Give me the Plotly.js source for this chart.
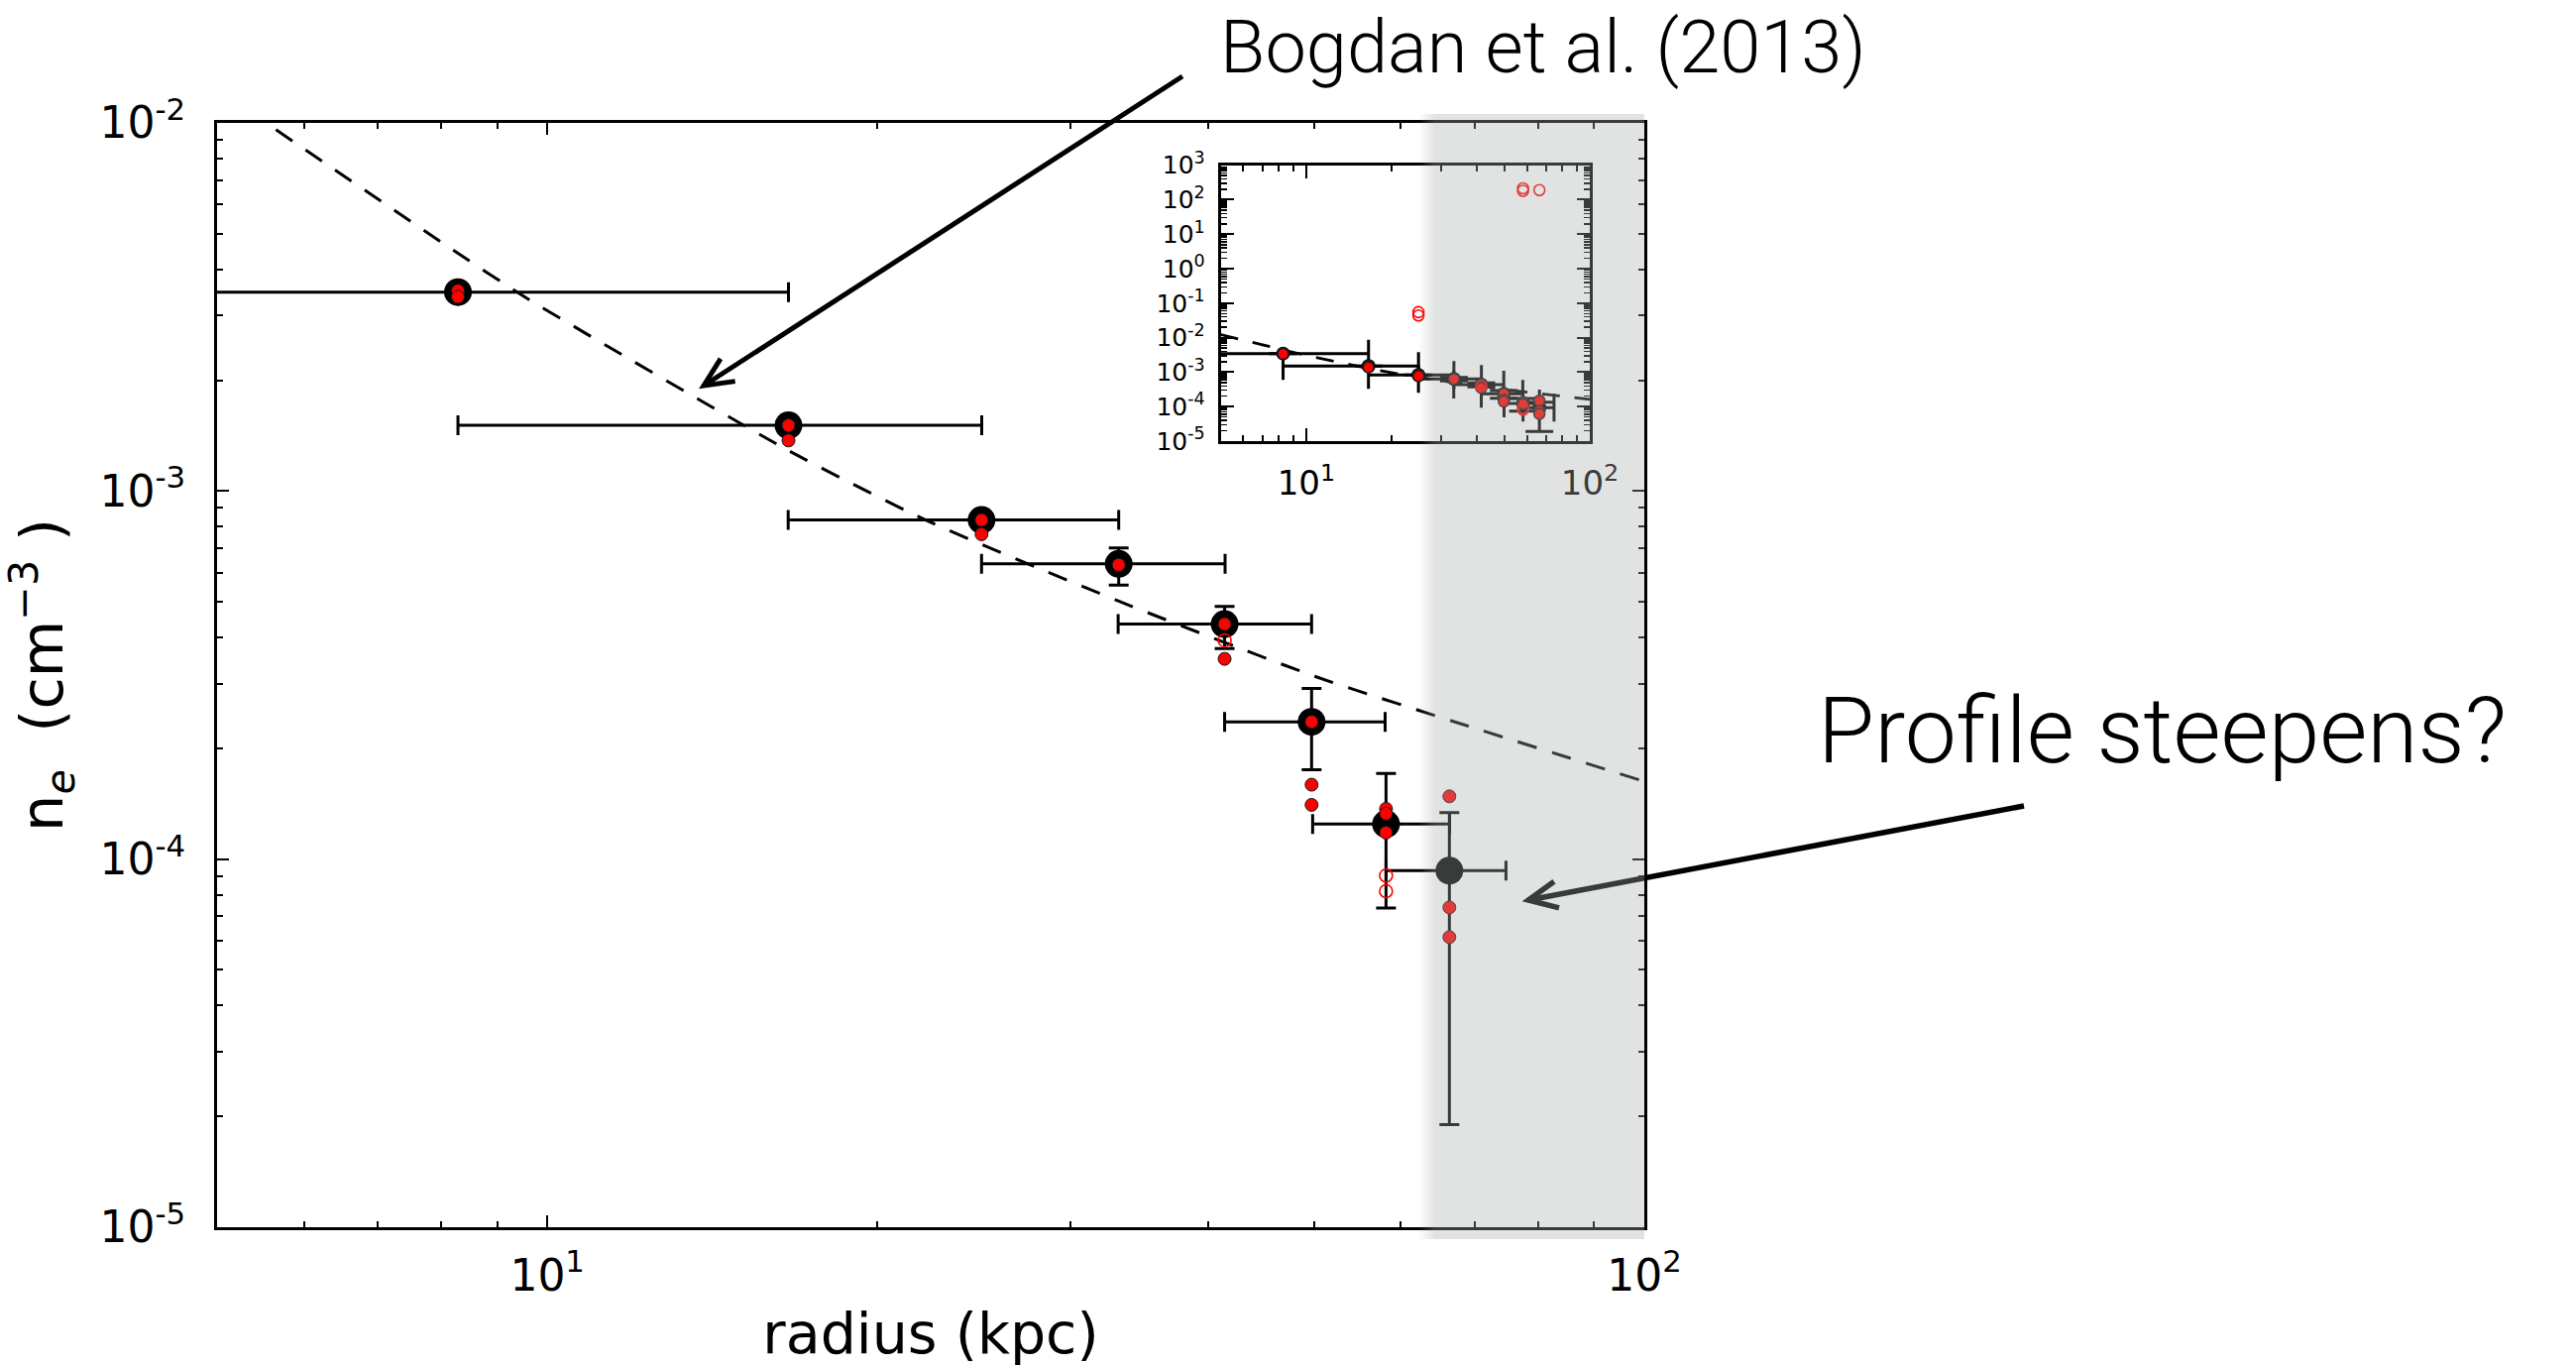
<!DOCTYPE html>
<html>
<head>
<meta charset="utf-8">
<script src="https://cdn.plot.ly/plotly-3.0.1.min.js"></script>
<style>
  html, body { margin: 0; padding: 0; background: #ffffff; }
  #chart { width: 2599px; height: 1378px; }
</style>
</head>
<body>
<div id="chart"></div>
<script>
// Deprojected electron density profile, radius in kpc, n_e in cm^-3
const radius        = [8.29, 16.59, 24.88, 33.18, 41.44, 49.74, 58.15, 66.42];
const density       = [3.47e-3, 1.508e-3, 8.34e-4, 6.34e-4, 4.35e-4, 2.36e-4, 1.245e-4, 9.3e-5];
const densityErrHi  = [0, 0, 0, 6.6e-5, 5.1e-5, 5.5e-5, 4.65e-5, 4.07e-5];
const densityErrLo  = [0, 0, 0, 7.9e-5, 6.2e-5, 6.1e-5, 5.09e-5, 7.4e-5];
const radiusErrHi   = [8.3, 8.3, 8.3, 8.3, 8.3, 8.3, 8.3, 8.38];
const radiusErrLo   = [8.2, 8.3, 8.3, 8.3, 8.3, 8.3, 8.3, 8.27];

// Alternative deprojections (filled) and rejected solutions (open)
const altRadius  = [8.29, 8.29, 16.59, 16.59, 24.88, 24.88, 33.18, 41.44, 41.44,
                    49.74, 49.74, 49.74, 58.15, 58.15, 58.15, 66.42, 66.42, 66.42];
const altDensity = [3.50e-3, 3.37e-3, 1.508e-3, 1.372e-3, 8.34e-4, 7.63e-4, 6.3e-4, 4.35e-4, 3.50e-4,
                    2.36e-4, 1.593e-4, 1.404e-4, 1.37e-4, 1.33e-4, 1.18e-4, 1.481e-4, 7.39e-5, 6.14e-5];
const rejRadius  = [24.88, 24.88, 41.44, 58.15, 58.15, 58.15, 58.15, 66.42];
const rejDensity = [0.055, 0.044, 3.93e-4, 9.02e-5, 8.18e-5, 214, 182, 190];

// Bogdan et al. (2013) profile
const modelRadius  = [5.0, 5.61, 8.10, 9.60, 16.59, 22.13, 33.14, 50.14, 69.0, 100];
const modelDensity = [1.230e-2, 9.75e-3, 4.634e-3, 3.327e-3, 1.288e-3, 8.337e-4, 5.028e-4, 3.133e-4, 2.301e-4, 1.626e-4];

// Axis ticks
const xTickVals  = [10, 100];
const xTickText  = ['10<sup>1</sup>', '10<sup>2</sup>'];
const yTickVals  = [1e-5, 1e-4, 1e-3, 1e-2];
const yTickText  = ['10<sup>-5</sup>', '10<sup>-4</sup>', '10<sup>-3</sup>', '10<sup>-2</sup>'];
const insetYTickVals = [1e-5, 1e-4, 1e-3, 1e-2, 1e-1, 1, 10, 100, 1000];
const insetYTickText = ['10<sup>-5</sup>', '10<sup>-4</sup>', '10<sup>-3</sup>', '10<sup>-2</sup>',
                        '10<sup>-1</sup>', '10<sup>0</sup>', '10<sup>1</sup>', '10<sup>2</sup>', '10<sup>3</sup>'];
const bandStartKpc = 63.3;

// ---- figure geometry (pixels) ----
const W = 2599, H = 1378;
const L = 219, R = 1659, T = 124, B = 1238;
const pw = R - L, ph = B - T;
const px = x => (x - L) / pw;
const py = y => (B - y) / ph;
const xLo = Math.log10(5), xHi = 2;
const kpcToPx = r => L + (Math.log10(r) - xLo) / (xHi - xLo) * pw;

function minorVals(decades) {
  const v = [];
  decades.forEach(d => { for (let m = 2; m <= 9; m++) v.push(m * d); });
  return v;
}
const xMinor = minorVals([1, 10]).filter(v => v > 5 && v < 100);
const yMinor = minorVals([1e-5, 1e-4, 1e-3]);
const yMinorInset = minorVals([1e-5, 1e-4, 1e-3, 1e-2, 1e-1, 1, 10, 100]);

const RED = '#ff0000';
const FONT = 'DejaVu Sans, Bitstream Vera Sans, sans-serif';

function profileTraces(xa, ya, s) {
  return [
    { x: modelRadius, y: modelDensity, xaxis: xa, yaxis: ya, mode: 'lines',
      line: { color: '#000', width: s.dashW, dash: s.dash, shape: 'spline', smoothing: 0.6 },
      hoverinfo: 'skip' },
    { x: radius, y: density, xaxis: xa, yaxis: ya, mode: 'markers',
      marker: { color: '#000', size: s.big },
      error_x: { type: 'data', symmetric: false, array: radiusErrHi, arrayminus: radiusErrLo,
                 color: '#000', thickness: s.errW, width: s.cap },
      error_y: { type: 'data', symmetric: false, array: densityErrHi, arrayminus: densityErrLo,
                 color: '#000', thickness: s.errW, width: s.cap } },
    { x: altRadius, y: altDensity, xaxis: xa, yaxis: ya, mode: 'markers',
      marker: { color: RED, size: s.small, line: { color: '#1a1a1a', width: s.edge } } },
    { x: rejRadius, y: rejDensity, xaxis: xa, yaxis: ya, mode: 'markers',
      marker: { symbol: 'circle-open', color: RED, size: s.small, line: { width: 1.6 } } }
  ];
}

const data = [
  ...profileTraces('x', 'y', { dashW: 3, dash: '20px,16px', big: 28, small: 13, edge: 1, errW: 3, cap: 10 }),
  ...profileTraces('x2', 'y2', { dashW: 2.8, dash: '18px,15px', big: 14, small: 11, edge: 1.5, errW: 3, cap: 14 })
];

// arrows drawn as shaft + open V head
function arrow(x0, y0, x1, y1, width, color) {
  const ang = Math.atan2(y0 - y1, x0 - x1);
  const len = 32, spread = 25 * Math.PI / 180;
  const a1 = [x1 + len * Math.cos(ang - spread), y1 + len * Math.sin(ang - spread)];
  const a2 = [x1 + len * Math.cos(ang + spread), y1 + len * Math.sin(ang + spread)];
  return [
    { type: 'line', xref: 'paper', yref: 'paper', layer: 'above',
      x0: px(x0), y0: py(y0), x1: px(x1), y1: py(y1), line: { color: color, width: width } },
    { type: 'path', xref: 'paper', yref: 'paper', layer: 'above',
      path: `M${px(a1[0])},${py(a1[1])} L${px(x1)},${py(y1)} L${px(a2[0])},${py(a2[1])}`,
      line: { color: color, width: width } }
  ];
}

// translucent highlight band with feathered left edge
const bandX = kpcToPx(bandStartKpc);
const bandTop = 115, bandBottom = 1250;
const bandFill = [168, 174, 171], bandAlpha = 0.34;
const band = [];
const feather = 16, steps = 8;
for (let i = 0; i < steps; i++) {
  const xa = bandX - feather / 2 + i * feather / steps;
  const a = bandAlpha * (i + 0.5) / steps;
  band.push({ type: 'rect', xref: 'paper', yref: 'paper', layer: 'above',
    x0: px(xa), x1: px(xa + feather / steps), y0: py(bandBottom), y1: py(bandTop),
    fillcolor: `rgba(${bandFill.join(',')},${a.toFixed(3)})`, line: { width: 0 } });
}
band.push({ type: 'rect', xref: 'paper', yref: 'paper', layer: 'above',
  x0: px(bandX + feather / 2), x1: px(R), y0: py(bandBottom), y1: py(bandTop),
  fillcolor: `rgba(${bandFill.join(',')},${bandAlpha})`, line: { width: 0 } });

const shapes = [
  ...arrow(1193, 77, 710, 389, 5, '#000'),
  ...arrow(2042, 813, 1542, 908, 5.5, '#000'),
  ...band
];

const axisCommon = {
  type: 'log', showline: true, linecolor: '#000', linewidth: 3, mirror: 'ticks',
  ticks: 'inside', tickcolor: '#000', tickwidth: 2, showgrid: false, zeroline: false,
  tickmode: 'array', fixedrange: true
};

const layout = {
  width: W, height: H,
  margin: { l: L, r: W - R, t: T, b: H - B, pad: 0 },
  paper_bgcolor: '#ffffff', plot_bgcolor: 'rgba(0,0,0,0)',
  showlegend: false,
  font: { family: FONT, color: '#000' },
  xaxis: Object.assign({}, axisCommon, {
    range: [xLo, xHi], tickvals: xTickVals, ticktext: xTickText, ticklen: 12,
    tickfont: { family: FONT, size: 44 }, ticklabelstandoff: 8,
    minor: { tickmode: 'array', tickvals: xMinor, ticks: 'inside', ticklen: 6, tickwidth: 2, tickcolor: '#000' },
    title: { text: 'radius (kpc)', font: { family: FONT, size: 57 }, standoff: 22 }
  }),
  yaxis: Object.assign({}, axisCommon, {
    range: [-5, -2], tickvals: yTickVals, ticktext: yTickText, ticklen: 12,
    tickfont: { family: FONT, size: 44 }, ticklabelstandoff: 20,
    minor: { tickmode: 'array', tickvals: yMinor, ticks: 'inside', ticklen: 6, tickwidth: 2, tickcolor: '#000' },
    title: { text: 'n<sub><i>e</i></sub>  (cm<sup>\u22123</sup> )', font: { family: FONT, size: 59 }, standoff: 23 }
  }),
  xaxis2: Object.assign({}, axisCommon, {
    domain: [px(1231.7), px(1604)], anchor: 'y2',
    range: [xLo, xHi], tickvals: xTickVals, ticktext: xTickText, ticklen: 13,
    tickfont: { family: FONT, size: 34 }, ticklabelstandoff: 10,
    minor: { tickmode: 'array', tickvals: xMinor, ticks: 'inside', ticklen: 6, tickwidth: 2, tickcolor: '#000' }
  }),
  yaxis2: Object.assign({}, axisCommon, {
    domain: [py(445), py(166.7)], anchor: 'x2',
    range: [-5, 3], tickvals: insetYTickVals, ticktext: insetYTickText, ticklen: 13,
    tickfont: { family: FONT, size: 25 }, ticklabelstandoff: 8,
    minor: { tickmode: 'array', tickvals: yMinorInset, ticks: 'inside', ticklen: 6, tickwidth: 1.5, tickcolor: '#000' }
  }),
  shapes: shapes,
  annotations: [
    { xref: 'paper', yref: 'paper', x: px(1230), y: py(47), xanchor: 'left', yanchor: 'middle',
      text: 'Bogdan et al. (2013)', showarrow: false, borderpad: 0,
      font: { family: 'Roboto, Liberation Sans, sans-serif', weight: 300, size: 74, color: '#000' } },
    { xref: 'paper', yref: 'paper', x: px(1832), y: py(737), xanchor: 'left', yanchor: 'middle',
      text: 'Profile steepens?', showarrow: false,
      font: { family: 'Roboto, Liberation Sans, sans-serif', weight: 300, size: 93, color: '#000' } }
  ]
};

Plotly.newPlot('chart', data, layout, { displayModeBar: false, staticPlot: true });
</script>
</body>
</html>
